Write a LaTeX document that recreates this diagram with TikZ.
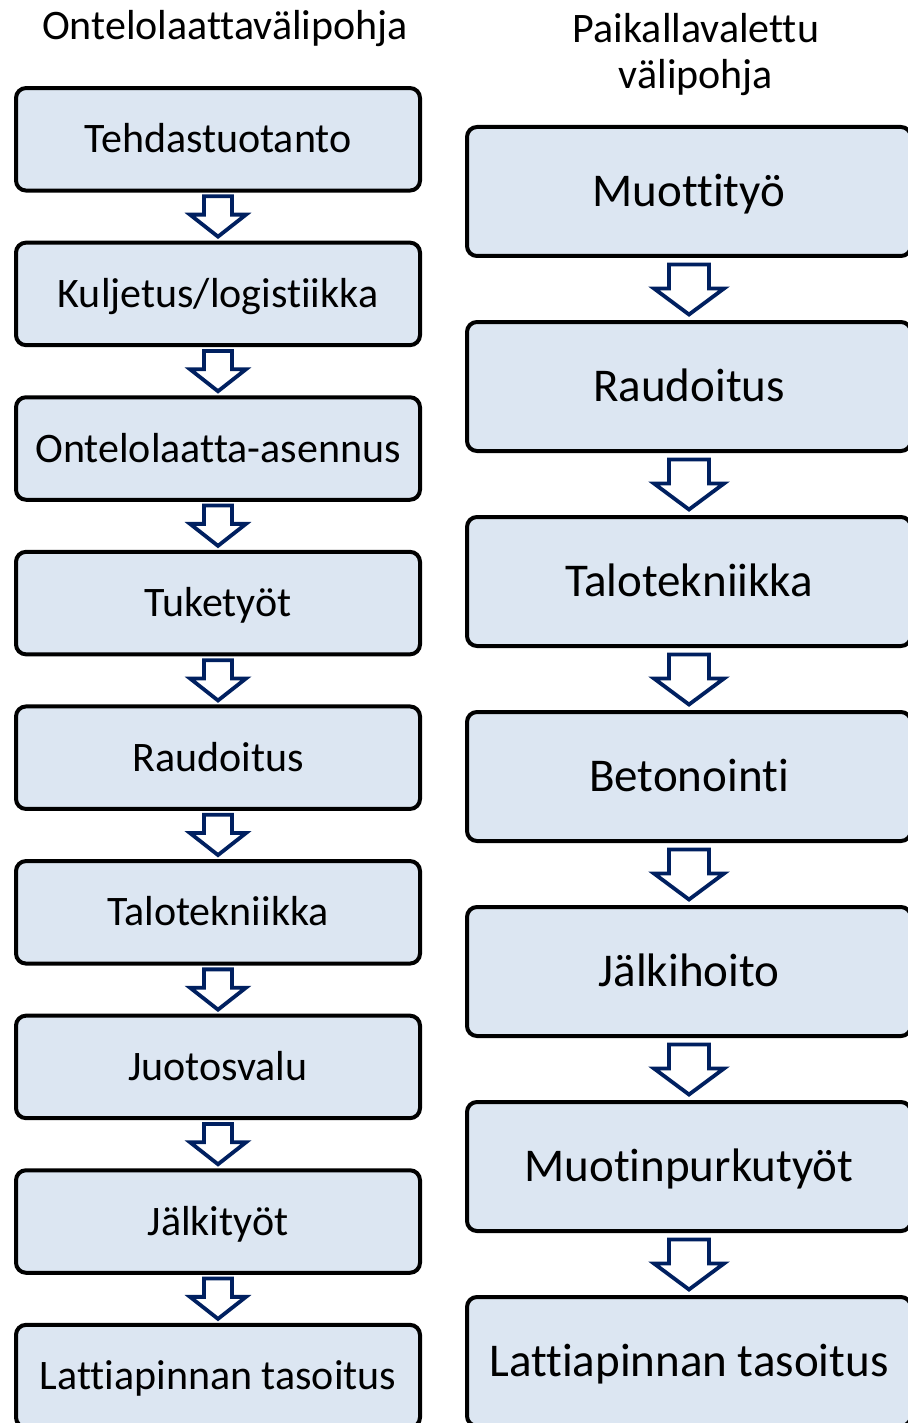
\documentclass[tikz,border=0pt]{standalone}
\usepackage{fontspec}
\setmainfont{Carlito}[RawFeature={-liga;-clig;-dlig;-calt}]
\usetikzlibrary{calc}
\definecolor{boxfill}{HTML}{DCE6F2}
\definecolor{arrowblue}{HTML}{002060}

\begin{document}
\begin{tikzpicture}[x=.5pt,y=-.5pt,
  stepbox/.style={draw=black,line width=2pt,rounded corners=5pt,fill=boxfill,inner sep=0pt,text depth=0pt},
  lbox/.style={stepbox,minimum width=202pt,minimum height=51.25pt,text height=13.5pt,font=\fontsize{21}{25}\selectfont},
  rbox/.style={stepbox,minimum width=222pt,minimum height=64.5pt,text height=15.1pt,font=\fontsize{23.5}{28}\selectfont},
  title/.style={align=center,inner sep=0pt,font=\fontsize{21}{23}\selectfont},
  % shaft half width, head half width, head length, top gap, tip gap
  blockarrow/.style n args={5}{draw=arrowblue,line width=1.9pt,fill=white,
    to path={let \p1=(\tikztostart.south),\p2=(\tikztotarget.north) in
      (\x1-#1,\y1-#4) -- (\x1+#1,\y1-#4) -- (\x1+#1,\y2+#5+#3) -- (\x1+#2,\y2+#5+#3)
      -- (\x1,\y2+#5) -- (\x1-#2,\y2+#5+#3) -- (\x1-#1,\y2+#5+#3) -- cycle}},
  larrow/.style={blockarrow={7pt}{14pt}{11pt}{1.9pt}{2pt}},
  rarrow/.style={blockarrow={10pt}{17.5pt}{13pt}{3.25pt}{2.75pt}}]
\path[use as bounding box] (0,0) rectangle (907,1423);
\node[title,anchor=base] (lt) at (225,40) {Ontelolaattavälipohja};
\node[title] (rt) at (696,55) {Paikallavalettu\\välipohja};
% ontelolaatta
\node[lbox] (l1) at (218,139.3) {Tehdastuotanto};
\node[lbox] (l2) at (218,293.9) {Kuljetus/logistiikka};
\node[lbox] (l3) at (218,448.5) {Ontelolaatta-asennus};
\node[lbox] (l4) at (218,603.1) {Tuketyöt};
\node[lbox] (l5) at (218,757.7) {Raudoitus};
\node[lbox] (l6) at (218,912.3) {Talotekniikka};
\node[lbox] (l7) at (218,1066.9) {Juotosvalu};
\node[lbox] (l8) at (218,1221.5) {Jälkityöt};
\node[lbox] (l9) at (218,1376.1) {Lattiapinnan tasoitus};
\draw[larrow] (l1) to (l2);
\draw[larrow] (l2) to (l3);
\draw[larrow] (l3) to (l4);
\draw[larrow] (l4) to (l5);
\draw[larrow] (l5) to (l6);
\draw[larrow] (l6) to (l7);
\draw[larrow] (l7) to (l8);
\draw[larrow] (l8) to (l9);
% paikallavalettu
\node[rbox] (r1) at (689,191.5) {Muottityö};
\node[rbox] (r2) at (689,386.5) {Raudoitus};
\node[rbox] (r3) at (689,581.5) {Talotekniikka};
\node[rbox] (r4) at (689,776.5) {Betonointi};
\node[rbox] (r5) at (689,971.5) {Jälkihoito};
\node[rbox] (r6) at (689,1166.5) {Muotinpurkutyöt};
\node[rbox] (r7) at (689,1361.5) {Lattiapinnan tasoitus};
\draw[rarrow] (r1) to (r2);
\draw[rarrow] (r2) to (r3);
\draw[rarrow] (r3) to (r4);
\draw[rarrow] (r4) to (r5);
\draw[rarrow] (r5) to (r6);
\draw[rarrow] (r6) to (r7);
\end{tikzpicture}
\end{document}
